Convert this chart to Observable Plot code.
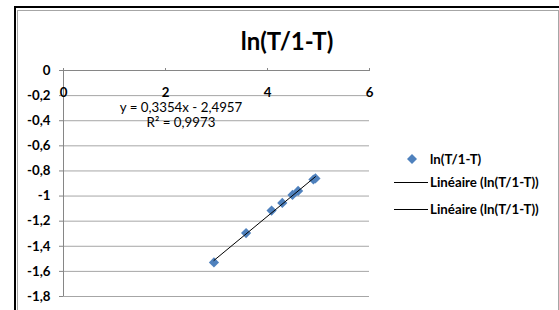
<!DOCTYPE html>
<html><head><meta charset="utf-8">
<script src="https://cdn.jsdelivr.net/npm/d3@7"></script>
<script src="https://cdn.jsdelivr.net/npm/@observablehq/plot@0.6"></script>
<style>
body{margin:0;background:#fff;font-family:Lato,"Open Sans",sans-serif;color:#000;}
#wrap{position:relative;width:559px;height:310px;overflow:hidden;}
.outer{position:absolute;left:14px;top:6px;right:-10px;bottom:-10px;border-left:2px solid #000;border-top:2px solid #000;}
.inner{position:absolute;left:17px;top:10px;width:540px;bottom:-10px;border:1px solid #a6a6a6;border-bottom:none;}
#chart{position:absolute;left:0;top:0;}
.title{position:absolute;left:187px;width:200px;top:27px;text-align:center;font-weight:bold;font-size:24px;line-height:28px;}
.eq{position:absolute;left:81px;width:200px;top:100px;text-align:center;font-size:13.3px;line-height:15px;}
.leg{position:absolute;left:392px;top:150px;font-size:13.3px;font-weight:bold;}
.row{position:absolute;left:0;height:18px;white-space:nowrap;display:flex;align-items:center;}
.row svg{display:block;}
</style></head>
<body>
<div id="wrap">
  <div class="outer"></div>
  <div class="inner"></div>
  <div id="chart"></div>
  <div class="title" id="title"></div>
  <div class="eq"><div id="eq1"></div><div id="eq2"></div></div>
  <div class="leg" id="leg"></div>
</div>
<script>
const seriesName = "ln(T/1-T)";
const trendName = "Linéaire (ln(T/1-T))";
const equation = "y = 0,3354x - 2,4957";
const rSquared = "R² = 0,9973";
const xVals = [2.95, 3.58, 4.08, 4.29, 4.49, 4.60, 4.90, 4.94];
const yVals = [-1.529, -1.295, -1.116, -1.055, -0.991, -0.959, -0.868, -0.860];
const xTicks = [0, 2, 4, 6];
const yTicks = [0, -0.2, -0.4, -0.6, -0.8, -1, -1.2, -1.4, -1.6, -1.8];

const data = xVals.map((x, i) => ({x, y: yVals[i]}));
const fmt = d3.formatLocale({decimal: ",", thousands: " ", grouping: [3], currency: ["", "€"], minus: "-"}).format("");

const blue = "#4F81BD";
const chart = Plot.plot({
  width: 559, height: 310,
  marginLeft: 63, marginRight: 190, marginTop: 70, marginBottom: 14,
  x: {domain: [0, 6]},
  y: {domain: [-1.8, 0]},
  style: {background: "transparent", fontFamily: "Lato, sans-serif", fontSize: "13.3px", color: "#000"},
  marks: [
    Plot.ruleY(yTicks, {stroke: "#a6a6a6"}),
    Plot.ruleY([0], {stroke: "#868686"}),
    Plot.ruleX([0], {stroke: "#868686"}),
    Plot.axisY({ticks: yTicks, tickSize: 4, tickPadding: 9, tickFormat: fmt, stroke: "#868686", fill: "#000", fontWeight: "bold", label: null}),
    Plot.axisX({anchor: "top", ticks: xTicks, tickSize: 3, tickFormat: () => "", stroke: "#868686", label: null}),
    Plot.text(xTicks, {x: d => d, frameAnchor: "top", dy: 17, text: d => fmt(d), fontWeight: "bold", fill: "#000"}),
    Plot.dot(data, {x: "x", y: "y", symbol: "diamond2", r: 4.6, fill: blue, stroke: "none"}),
    Plot.linearRegressionY(data, {x: "x", y: "y", ci: 0, stroke: "#000", strokeWidth: 1})
  ]
});
document.getElementById("chart").appendChild(chart);
document.getElementById("title").textContent = seriesName;
document.getElementById("eq1").textContent = equation;
document.getElementById("eq2").textContent = rSquared;

const leg = document.getElementById("leg");
const items = [
  {type: "dot", label: seriesName, top: 0},
  {type: "line", label: trendName, top: 23},
  {type: "line", label: trendName, top: 50}
];
for (const it of items) {
  const row = document.createElement("div");
  row.className = "row";
  row.style.top = it.top + "px";
  const sw = it.type === "dot"
    ? `<svg width="38" height="18"><path d="M20,4 L25,9 L20,14 L15,9 Z" fill="${blue}"/></svg>`
    : `<svg width="38" height="18"><line x1="2" x2="36" y1="9.5" y2="9.5" stroke="#000" stroke-width="1"/></svg>`;
  row.innerHTML = sw + `<span>${it.label}</span>`;
  leg.appendChild(row);
}
</script>
</body></html>
